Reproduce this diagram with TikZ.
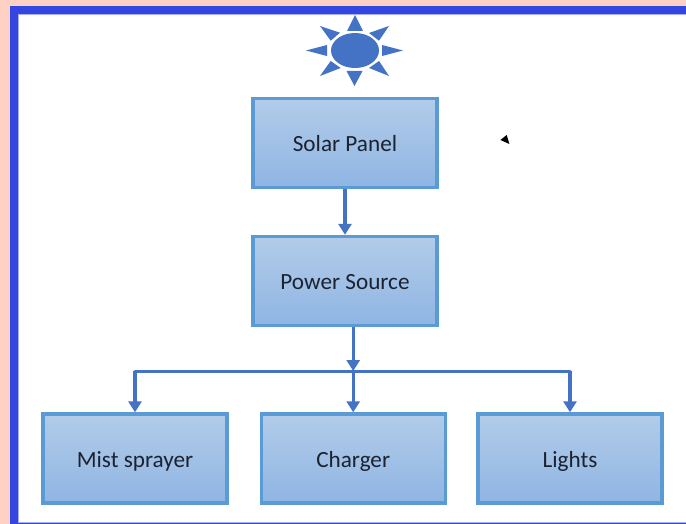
\documentclass[tikz,border=0pt]{standalone}
\usepackage{fontspec}
\setmainfont{Carlito}
\usetikzlibrary{arrows.meta,shapes.geometric}
\definecolor{pinkbg}{HTML}{FFD0C4}
\definecolor{frameblue}{HTML}{3545E0}
\definecolor{frameedge}{HTML}{A8AEF4}
\definecolor{boxtop}{HTML}{B2CCE9}
\definecolor{boxbot}{HTML}{8FB5E3}
\definecolor{boxline}{HTML}{5B9BD5}
\definecolor{linkblue}{HTML}{4472C4}
\definecolor{inktext}{HTML}{1C2230}
\tikzset{
  box/.style={rectangle,draw=boxline,line width=3.4pt,top color=boxtop,bottom color=boxbot,
    minimum width=184pt,minimum height=89pt,inner sep=0pt,text=inktext,
    text height=23pt,text depth=6pt,
    font=\fontsize{23.2}{27}\selectfont},
  link/.style={draw=linkblue,line width=3.4pt,-{Triangle[length=11pt,width=13pt]}},
  bar/.style={draw=linkblue,line width=3pt,line cap=round},
  sunpart/.style={fill=linkblue,draw=none}
}
\begin{document}
\begin{tikzpicture}[x=1pt,y=-1pt]
\useasboundingbox (0,0) rectangle (686,524);
\fill[pinkbg] (0,0) rectangle (686,524);
\fill[frameblue] (10,6) rectangle (686,524);
\fill[frameedge] (18,14) rectangle (686,522.5);
\fill[white] (19,15) rectangle (686,521.5);
% sun
\node[sunpart,ellipse,minimum width=48pt,minimum height=35pt,inner sep=0pt] (sun) at (355,50.5) {};
\fill[sunpart] (355,15) -- (363,31) -- (347,31) -- cycle;
\fill[sunpart] (354.5,86) -- (362.5,71) -- (346.5,71) -- cycle;
\fill[sunpart] (306,50.5) -- (327,45) -- (327,56) -- cycle;
\fill[sunpart] (403,50.5) -- (382,45) -- (382,56) -- cycle;
\fill[sunpart] (320,26) -- (340,32.7) -- (330.7,40.7) -- cycle;
\fill[sunpart] (389,26) -- (369,33) -- (379,40.7) -- cycle;
\fill[sunpart] (320,76) -- (330.7,61) -- (340.7,68) -- cycle;
\fill[sunpart] (389,76) -- (379,61) -- (369,68) -- cycle;
% cursor
\fill[black] (506.7,135) -- (500.4,140) -- (509.4,144) -- cycle;
% boxes
\node[box] (solar) at (345,143) {Solar Panel};
\node[box] (power) at (345,281) {Power Source};
\node[box] (mist) at (135,458.5) {Mist sprayer};
\node[box] (charger) at (353.2,458.5) {Charger};
\node[box] (lights) at (570,458.5) {Lights};
% connectors
\coordinate (hub) at (charger.north |- 0,371);
\draw[link] (solar.south) -- (power.north);
\draw[bar] (mist.north |- hub) -- (lights.north |- hub);
\draw[link] (charger.north |- power.south) -- (hub);
\draw[link] (hub) -- (charger.north);
\draw[link] (mist.north |- hub) -- (mist.north);
\draw[link] (lights.north |- hub) -- (lights.north);
\end{tikzpicture}
\end{document}
